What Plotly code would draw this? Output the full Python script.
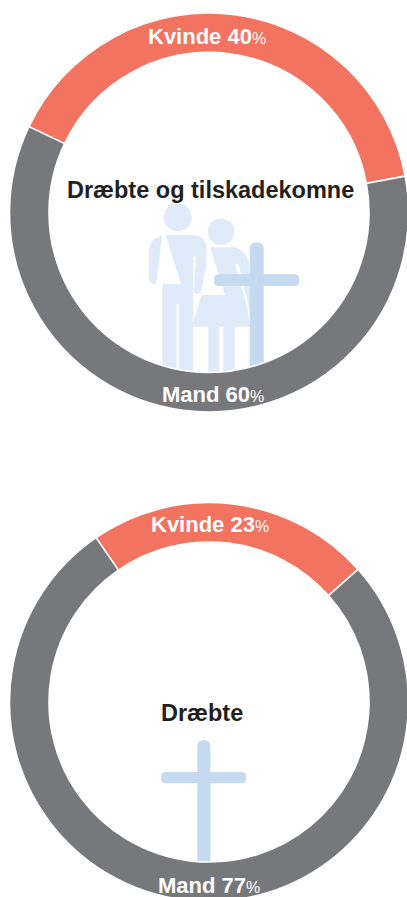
import plotly.graph_objects as go

# --- data ---
categories = ["Kvinde", "Mand"]
killed_injured = [40, 60]
killed = [23, 77]
title_both = "Dræbte og tilskadekomne"
title_killed = "Dræbte"
colors = ["#F37361", "#77787B"]

W, H = 420, 915
ICON_LIGHT = "#DFEBF8"
ICON_CROSS = "#C5D9F0"
TEXT = "#231F20"


def px(x):
    return x / W


def py(y):
    return 1 - y / H


def path(cmds):
    out = []
    for c in cmds:
        op, nums = c[0], c[1:]
        pts = []
        for i in range(0, len(nums), 2):
            pts.append(f"{px(nums[i]):.5f},{py(nums[i + 1]):.5f}")
        out.append(op + " ".join(pts))
    return " ".join(out) + " Z"


def pie(values, rotation, cx, cy, r):
    return go.Pie(
        labels=categories, values=values, sort=False, direction="clockwise",
        rotation=rotation, hole=160 / 199.5, textinfo="none", showlegend=False,
        marker=dict(colors=colors, line=dict(color="white", width=1.6)),
        domain=dict(x=[px(cx - r), px(cx + r)], y=[py(cy + r), py(cy - r)]),
    )


def label(text, x, y, size, color="white", pct=False):
    t = f"<b>{text}</b>"
    if pct:
        t = f"<b>{text}</b><span style='font-size:{size - 6}px'>%</span>"
    return dict(text=t, x=px(x), y=py(y), xref="paper", yref="paper", showarrow=False,
                xanchor="center", yanchor="middle",
                font=dict(family="Liberation Sans", size=size, color=color))


def poly(cmds, color):
    return dict(type="path", path=path(cmds), xref="paper", yref="paper",
                fillcolor=color, line=dict(width=0), layer="below")


def circle(cx, cy, r, color):
    return dict(type="circle", xref="paper", yref="paper", x0=px(cx - r), x1=px(cx + r),
                y0=py(cy + r), y1=py(cy - r), fillcolor=color, line=dict(width=0), layer="below")


def pill(x0, y0, x1, y1, color):
    """Rounded bar, used for the arms of the crosses."""
    if x1 - x0 > y1 - y0:
        m = (y0 + y1) / 2
        cmds = [("M", x0 + 5, y0), ("L", x1 - 5, y0), ("Q", x1 + 1, y0, x1, m), ("Q", x1 + 1, y1, x1 - 5, y1),
                ("L", x0 + 5, y1), ("Q", x0 - 1, y1, x0, m), ("Q", x0 - 1, y0, x0 + 5, y0)]
    else:
        m = (x0 + x1) / 2
        cmds = [("M", x0, y0 + 6), ("Q", x0, y0, m, y0), ("Q", x1, y0, x1, y0 + 6),
                ("L", x1, y1), ("L", x0, y1)]
    return poly(cmds, color)


man_arm = [("M", 162.3, 235.7), ("Q", 149, 238, 149, 252), ("L", 149, 279), ("Q", 149, 284, 156, 284)]
man_body = [("M", 165.7, 235), ("L", 193.3, 235), ("Q", 206.5, 236, 206.7, 250), ("L", 206.2, 266),
            ("L", 201, 291), ("Q", 199, 296, 194, 293), ("L", 195.7, 256.7), ("L", 193.3, 256.7),
            ("L", 193.3, 376), ("L", 179.2, 376), ("L", 179.2, 304), ("L", 176.7, 304), ("L", 176.7, 376),
            ("L", 162.5, 376), ("L", 162.5, 284), ("L", 181, 284)]
woman_body = [("M", 210, 247.3), ("L", 233.3, 247.3), ("Q", 247, 249, 249, 265), ("L", 250.5, 313),
              ("L", 238.5, 264), ("L", 235, 264), ("L", 247, 307), ("L", 250, 326.7), ("L", 234.7, 326.7),
              ("L", 234.7, 376), ("L", 223.3, 376), ("L", 223.3, 326.7), ("L", 219.3, 326.7), ("L", 219.3, 376),
              ("L", 208.3, 376), ("L", 208.3, 326.7), ("L", 193.3, 326.7), ("L", 193.3, 322),
              ("L", 201.7, 295), ("L", 225, 295)]

shapes = [
    circle(177.7, 217.3, 14, ICON_LIGHT),
    poly(man_arm, ICON_LIGHT),
    poly(man_body, ICON_LIGHT),
    circle(221, 231.7, 13.3, ICON_LIGHT),
    poly(woman_body, ICON_LIGHT),
    pill(249.7, 242.3, 263.7, 376, ICON_CROSS),
    pill(214.3, 274.3, 299, 286, ICON_CROSS),
    pill(197.3, 740, 210.3, 866, ICON_CROSS),
    pill(161.3, 772, 246, 783.3, ICON_CROSS),
]

annotations = [
    label(f"{categories[0]} {killed_injured[0]}", 207, 37, 22, pct=True),
    label(f"{categories[1]} {killed_injured[1]}", 212.5, 394, 22, pct=True),
    label(f"{categories[0]} {killed[0]}", 210, 524, 22, pct=True),
    label(f"{categories[1]} {killed[1]}", 208.5, 885, 22, pct=True),
    label(title_both, 210.5, 190, 23.5, color=TEXT),
    label(title_killed, 202, 713, 23.5, color=TEXT),
]

fig = go.Figure([pie(killed_injured, -64.5, 209, 212.5, 199.5), pie(killed, -34.5, 209, 702, 199.5)])
fig.update_layout(width=W, height=H, margin=dict(l=0, r=0, t=0, b=0), paper_bgcolor="white",
                  shapes=shapes, annotations=annotations)
fig.write_html("out.html", config={"displayModeBar": False},
               post_script="document.documentElement.style.overflow='hidden';document.body.style.margin='0';document.body.style.overflow='hidden';")
